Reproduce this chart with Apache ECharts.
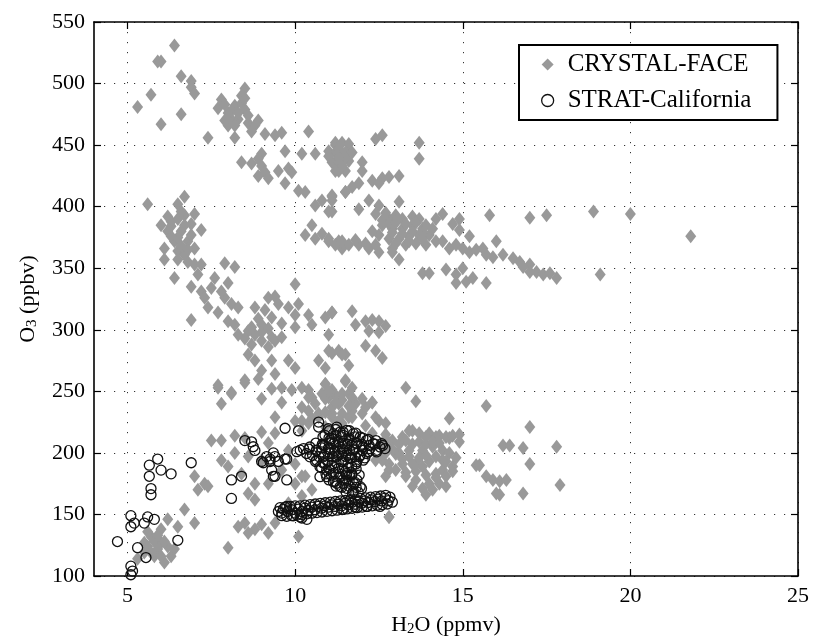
<!DOCTYPE html>
<html>
<head>
<meta charset="utf-8">
<script src="https://cdn.jsdelivr.net/npm/echarts@6/dist/echarts.min.js"></script>
<style>html,body{margin:0;padding:0;background:#fff}#c{width:814px;height:642px}</style>
</head>
<body>
<div id="c"></div>
<script>
// ---- Data ----
const xTickValues = [5, 10, 15, 20, 25];
const yTickValues = [100, 150, 200, 250, 300, 350, 400, 450, 500, 550];

// CRYSTAL-FACE: H2O (ppmv) and O3 (ppbv)
const crystalH2O = [
6.4,5.9,6.0,6.6,6.9,6.9,7.0,5.7,5.3,6.6,6.0,7.4,8.2,8.5,7.8,7.7,8.0,8.2,8.4,8.5,8.3,8.6,8.0,8.8,8.9,8.1,8.4,9.1,9.4,9.6,10.4,9.7,9.0,8.9,8.7,8.4,9.0,9.1,9.2,8.9,9.5,9.8,9.9,9.7,10.1,10.3,10.2,10.6,11.0,11.2,11.2,11.4,11.3,11.1,10.8,11.5,5.6,6.5,6.7,
6.0,6.3,6.5,6.7,7.0,6.2,6.6,6.4,6.1,6.5,6.8,6.9,7.2,7.0,6.7,6.8,6.1,7.0,6.4,6.9,7.2,7.1,7.6,7.5,7.9,8.2,8.0,7.2,7.3,7.4,7.7,7.9,8.1,7.8,8.3,8.0,8.2,6.9,8.3,8.6,8.8,9.0,9.2,9.4,9.5,9.3,8.7,9.0,9.2,9.4,9.8,10.1,10.0,10.4,10.5,10.9,11.1,11.0,10.0,10.0,8.6,8.8,9.3,9.8,10.0,8.5,8.9,9.0,9.4,9.6,7.7,8.1,10.4,10.9,10.7,11.0,11.3,11.5,10.9,10.6,11.0,11.1,10.5,10.3,10.6,11.0,11.3,11.4,
11.2,11.4,11.6,11.2,11.5,11.1,11.3,11.6,11.2,11.5,12.0,12.0,12.4,12.6,13.7,13.7,12.3,12.6,12.8,13.1,12.5,11.5,11.7,11.9,11.1,12.2,12.5,12.4,11.9,13.1,11.1,12.8,13.0,13.2,13.5,13.7,12.6,12.9,13.2,13.5,13.8,12.5,12.8,13.1,13.4,13.7,14.0,12.9,13.3,13.6,13.9,14.2,14.4,14.2,12.3,13.1,14.7,14.9,14.9,15.2,15.8,16.0,17.0,17.5,14.4,14.6,14.8,15.0,15.2,15.4,15.6,15.7,15.9,16.2,16.5,16.7,17.0,17.2,17.4,17.6,17.8,17.0,16.8,11.0,11.2,11.6,11.9,12.2,12.5,12.9,13.8,14.0,14.5,14.8,14.8,15.1,15.3,15.7,15.0,
18.9,20.0,21.8,19.1,
11.1,11.7,11.8,12.1,12.3,12.5,12.7,12.2,12.5,12.1,12.4,12.6,11.1,11.4,11.6,11.5,13.3,13.6,15.7,14.6,14.9,17.0,16.2,16.4,16.8,17.8,17.0,15.4,11.0,11.2,11.6,11.8,12.0,12.3,12.5,11.4,11.1,11.3,11.7,12.1,12.8,13.2,13.5,13.7,14.0,14.3,14.6,13.0,13.4,13.8,14.1,14.4,13.2,13.6,14.0,14.4,14.7,14.2,12.8,
10.9,11.5,12.3,15.5,15.7,15.9,16.1,16.3,16.0,16.1,16.8,17.9,13.9,12.8,14.7,13.1,13.6,14.0,14.3,14.5,13.3,13.5,13.8,14.4,12.6,12.8,14.6,14.2,14.5,14.7,13.4,13.9,
10.2,10.5,10.8,11.1,11.4,11.7,12.1,12.4,12.7,10.4,10.7,11.1,11.6,10.2,12.3,12.6,12.4,12.7,10.2,
7.7,8.1,7.8,8.5,9.0,9.3,9.6,9.9,10.2,10.4,10.7,11.1,11.4,11.7,9.4,10.0,10.4,10.9,11.4,11.7,7.5,7.8,8.2,8.5,9.0,9.4,7.8,8.2,8.0,8.6,9.0,8.4,8.8,9.2,9.8,10.0,9.6,9.2,10.0,10.3,10.5,10.2,9.8,7.0,7.3,7.1,7.4,6.7,7.0,6.5,6.2,6.0,6.2,5.9,6.3,6.1,5.8,5.6,5.7,6.0,5.5,8.0,8.3,8.5,8.8,9.0,9.2,8.6,9.4,8.6,8.8,10.1,5.6,5.8,5.3,12.8,
12.7,12.9,13.1,13.3,13.5,13.7,13.9,14.1,14.3,12.9,13.2,13.4,13.7,13.9,14.2,14.5,13.0,13.3,13.6,13.9,14.2,14.5,13.5,13.8,14.1,12.7,14.8,14.9,
12.6,12.8,13.0,13.3,13.6,13.9,12.9,13.2,13.5,13.8,14.1,13.0,13.4,13.8,12.7,
7.9,8.1,8.3,8.6,8.2,8.5,7.9,8.7,
6.3,6.5,6.7,6.3,6.6,6.9,6.2,6.5,6.6,6.8,
8.5,8.8,9.0,9.2,8.9,9.3,9.6,9.1,8.7,9.6,
10.6,10.9,11.2,10.5,10.9,11.3,11.6,12.0,11.0,10.2,
5.9,6.1,5.7,6.4,6.0,5.5,
11.3,11.5,11.3,11.7,11.4,11.0,
11.4,11.8,12.1,12.4,10.8
];
const crystalO3 = [
531,518,518,506,502,497,492,491,481,475,467,456,456,496,487,480,476,482,484,479,471,468,466,466,470,471,490,459,458,460,461,445,443,439,435,436,433,428,423,425,429,431,428,419,413,412,443,443,445,450,436,441,429,409,405,412,402,402,408,
385,388,390,393,394,380,380,372,366,364,372,377,381,366,361,355,357,353,342,335,353,345,342,334,354,351,338,331,326,318,314,326,321,331,318,307,304,308,296,299,318,304,326,327,321,294,288,291,286,291,318,321,312,312,304,310,314,296,302,337,280,275,275,275,269,257,260,267,264,253,255,249,251,256,275,283,283,280,269,401,396,405,385,377,374,374,372,366,
452,452,451,444,444,436,436,437,429,429,436,429,455,458,452,439,421,423,424,425,419,412,416,419,408,405,401,394,398,404,396,390,393,390,392,390,385,382,382,385,382,377,374,374,376,377,377,366,369,370,369,390,394,372,380,357,386,390,381,376,393,372,391,393,372,366,369,366,363,365,366,361,359,361,358,355,353,347,345,346,342,347,351,372,369,369,369,366,363,363,346,346,349,345,338,339,342,338,350,
396,394,376,345,
314,315,304,307,308,307,303,299,298,287,283,277,281,280,271,259,253,242,238,228,209,221,206,206,204,205,191,190,245,247,248,240,232,241,226,232,229,240,229,222,208,213,218,216,216,214,212,199,202,202,205,202,191,191,193,194,189,183,191,
256,258,241,190,181,178,177,178,167,166,167,174,166,148,185,200,178,175,175,173,181,191,189,186,194,186,200,213,213,214,218,213,
253,245,248,251,243,245,237,229,224,234,229,232,229,218,216,208,194,181,181,
253,248,240,259,244,252,241,251,237,245,232,237,248,234,229,226,224,221,224,253,210,210,214,212,217,216,194,200,189,197,194,183,175,208,202,191,186,175,175,181,170,165,159,181,175,170,173,154,143,140,146,127,124,122,116,111,116,124,132,138,119,123,140,143,138,142,135,135,143,167,162,132,136,128,114,148,
215,210,207,210,207,209,207,209,208,203,195,197,196,198,197,193,186,184,185,182,180,181,173,171,170,200,196,215,
389,386,387,386,387,385,379,378,380,379,382,370,372,374,395,
483,478,476,474,466,488,470,461,
384,375,385,376,368,386,392,357,396,365,
293,296,298,301,309,310,305,316,302,294,
240,244,241,228,233,226,238,244,250,226,
133,128,119,122,116,127,
447,440,440,444,433,441,
372,373,370,369,378
];

// STRAT-California: H2O (ppmv) and O3 (ppbv)
const stratH2O = [
4.7,5.1,5.15,5.1,5.1,5.1,5.2,5.5,5.6,5.8,5.3,5.55,6.5,5.65,5.9,5.65,5.7,5.7,6.0,6.3,6.9,8.1,8.1,8.4,8.5,8.7,8.75,8.8,9.05,9.25,9.4,9.35,9.75,9.7,10.1,9.75,9.5,9.15,10.7,10.7,10.15,10.35,9.0,9.25,9.4,9.7,9.3,9.35,10.05,
10.25,10.44,10.64,10.84,11.04,11.14,11.34,11.54,11.74,11.94,12.13,12.33,12.53,12.68,10.99,11.24,11.44,11.64,11.84,12.03,12.23,11.14,11.34,11.54,11.74,10.44,10.64,10.84,11.04,11.24,11.44,11.64,11.84,12.03,10.74,10.94,11.14,11.34,11.54,11.74,10.94,11.14,11.34,11.54,11.74,10.74,11.94,10.34,10.15,12.43,12.58,11.94,12.13,
10.89,11.09,11.29,11.49,11.69,10.79,10.99,11.19,11.39,11.59,11.79,10.89,11.09,11.29,11.49,11.69,11.84,11.54,11.69,11.44,11.24,
9.5,9.6,9.65,9.77,9.9,10.0,10.1,10.2,10.29,10.39,10.49,10.59,10.69,10.79,10.89,10.99,11.09,11.19,11.29,11.39,11.49,11.59,11.69,11.79,11.89,11.99,12.08,12.18,12.28,12.38,12.48,12.58,12.68,12.78,12.83,12.53,10.2,9.95,11.79,11.44,12.13,9.75,
9.55,9.7,9.85,10.0,10.15,10.3,10.45,10.6,10.75,10.9,11.05,11.2,11.35,11.5,11.65,11.8,11.95,12.1,12.25,12.4,12.55,12.7,
9.6,9.75,9.9,10.05,10.2,10.35,10.5,10.65,10.8,10.95,11.1,11.25,11.4,11.55,11.7,11.85,12.0,12.15,12.3,12.45,12.6,12.75,12.9,
11.02,11.21,11.43,11.62,11.81,
10.83,11.01,11.22,11.38,11.61,11.79,12.02,12.18,12.41,
10.62,10.81,11.03,11.19,11.42,11.58,11.82,11.99,12.21,12.38,12.61,
10.41,10.63,10.79,11.02,11.18,11.41,11.62,11.78,12.01,12.19,12.42,
10.52,10.71,10.88,11.12,11.29,11.51,11.69,11.92,12.08,
10.61,10.83,10.98,11.22,11.39,11.58,11.81,
10.79,11.02,11.18,11.41,11.59,11.82,
10.92,11.08,11.31,11.52,11.69,11.91,
11.01,11.19,11.42,11.61,11.79,
11.22,11.39,11.61,11.82,11.98,
11.52,11.71,11.88
];
const stratO3 = [
128,108,104,101,149,140,143,143,148,146,123,115,129,190,195,181,171,166,186,183,192,163,178,181,210,209,205,202,192,193,181,200,178,220,218,195,193,197,225,221,148,146,193,195,197,195,186,181,201,
203.5,204.8,202.2,206.2,210.2,215.6,216.9,218.3,215.6,212.9,210.2,207.5,204.8,203.5,219.6,221,214.3,210.2,207.5,204.8,203.5,207.5,204.8,203.5,202.2,196.8,194.1,196.8,199.5,196.8,194.1,195.4,192.8,194.1,188.7,186,183.3,180.7,178,175.3,180.7,176.6,172.6,171.2,168.6,180.7,172.6,199.5,202.2,200.8,207.5,198.1,199.5,
214.3,211.6,208.9,207.5,206.2,200.8,203.5,200.8,199.5,198.1,196.8,191.4,190.1,187.4,184.7,182,178,183.3,188.7,175.3,175.3,
152.4,151.1,154.3,152.4,153.8,151.1,154.3,152.4,155.1,153.2,155.9,153.8,156.5,155.1,157,155.9,157.8,156.5,158.3,157,159.1,157.8,159.7,158.3,160.5,159.1,161,159.7,161.8,160.5,162.4,161,163.2,161.3,164,156.5,147.1,148.9,155.9,154.3,156.5,156.5,
155.5,156,156.5,157,157,157.5,158,158.5,159,159.5,160,160.5,161,161.5,162,162.5,163,163.5,164,164.5,165,165.5,
149,148.5,149,149.5,150,150.5,151,151.5,152,152.5,153,153.5,154,154.5,155,155.5,156,156.5,157,157.5,158,158.5,160,
218,219,217,218,216,
213,212,214,213,212,213,212,211,210,
208,207,208,209,208,207,208,207,206,207,206,
203,202,204,203,202,203,202,203,202,201,202,
198,197,198,197,198,197,196,197,196,
193,192,193,192,193,192,191,
188,187,188,187,188,187,
183,182,183,182,183,182,
178,177,178,177,176,
173,172,173,172,171,
168,167,168
];

const xName = 'H{sub|2}O (ppmv)';
const yName = 'O{sub|3} (ppbv)';
const seriesNames = ['CRYSTAL-FACE', 'STRAT-California'];

const zip = (a, b) => a.map((v, i) => [v, b[i]]);
const FONT = '"Liberation Serif", "DejaVu Serif", serif';

const chart = echarts.init(document.getElementById('c'), null, {renderer: 'canvas'});
const gridLine = {show: true, lineStyle: {color: '#333', width: 1, type: [1.2, 8.8]}};
const axisLine = {show: true, onZero: false, lineStyle: {color: '#000', width: 1.6}};
const subRich = {sub: {fontSize: 15, fontFamily: FONT, color: '#000', padding: [9, 0, 0, 0]}};

chart.setOption({
  animation: false,
  backgroundColor: '#fff',
  grid: {left: 94, right: 16, top: 22, bottom: 62, containLabel: false},
  legend: {
    orient: 'vertical', left: 519, top: 45,
    padding: [7, 26, 7, 22], itemGap: 11, itemWidth: 12, itemHeight: 12, itemTextGap: 5,
    borderColor: '#000', borderWidth: 2, backgroundColor: '#fff',
    textStyle: {fontFamily: FONT, fontSize: 25, color: '#000', padding: [0, 0, 0, 9]},
    data: [
      {name: seriesNames[0], icon: 'diamond', itemStyle: {color: '#999'}},
      {name: seriesNames[1], icon: 'circle', itemStyle: {color: 'rgba(0,0,0,0)', borderColor: '#111', borderWidth: 1.3}}
    ]
  },
  xAxis: [{
    type: 'value', min: 4, max: 25, position: 'bottom',
    name: xName, nameLocation: 'middle', nameGap: 37,
    nameTextStyle: {fontFamily: FONT, fontSize: 22, color: '#000', rich: subRich},
    axisLine: axisLine,
    axisTick: {show: true, inside: true, length: 7, customValues: xTickValues, lineStyle: {color: '#000', width: 1.2}},
    axisLabel: {customValues: xTickValues, fontFamily: FONT, fontSize: 22, color: '#000', margin: 9},
    splitLine: gridLine
  }, {
    type: 'value', min: 4, max: 25, position: 'top',
    axisLine: axisLine,
    axisTick: {show: true, inside: true, length: 7, customValues: xTickValues, lineStyle: {color: '#000', width: 1.2}},
    axisLabel: {show: false}, splitLine: {show: false}
  }],
  yAxis: [{
    type: 'value', min: 100, max: 550, interval: 50, position: 'left',
    name: yName, nameLocation: 'middle', nameGap: 54, nameRotate: 90,
    nameTextStyle: {fontFamily: FONT, fontSize: 22, color: '#000', rich: subRich},
    axisLine: axisLine,
    axisTick: {show: true, inside: true, length: 7, lineStyle: {color: '#000', width: 1.2}},
    axisLabel: {fontFamily: FONT, fontSize: 22, color: '#000', margin: 9},
    splitLine: gridLine
  }, {
    type: 'value', min: 100, max: 550, interval: 50, position: 'right',
    axisLine: axisLine,
    axisTick: {show: true, inside: true, length: 7, lineStyle: {color: '#000', width: 1.2}},
    axisLabel: {show: false}, splitLine: {show: false}
  }],
  series: [{
    name: seriesNames[0], type: 'scatter', xAxisIndex: 0, yAxisIndex: 0,
    symbol: 'diamond', symbolSize: [11, 14],
    itemStyle: {color: '#999', opacity: 1},
    data: zip(crystalH2O, crystalO3), z: 2
  }, {
    name: seriesNames[1], type: 'scatter', xAxisIndex: 0, yAxisIndex: 0,
    symbol: 'circle', symbolSize: 10,
    itemStyle: {color: 'rgba(0,0,0,0)', borderColor: '#111', borderWidth: 1.3, opacity: 1},
    data: zip(stratH2O, stratO3), z: 3
  }]
});
</script>
</body>
</html>
